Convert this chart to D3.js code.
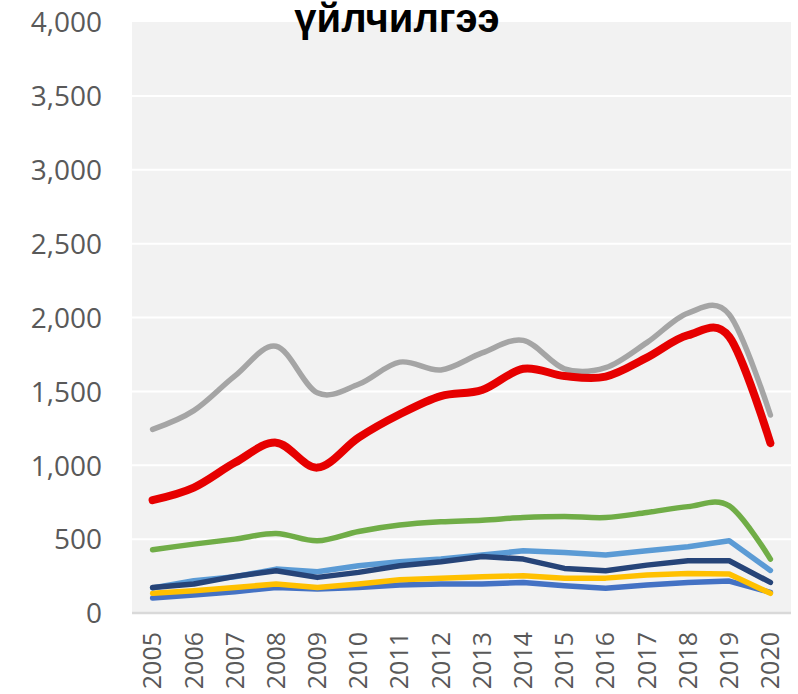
<!DOCTYPE html>
<html>
<head>
<meta charset="utf-8">
<script src="https://cdn.jsdelivr.net/npm/d3@7"></script>
<style>
  body { margin: 0; background: #ffffff; }
  svg { display: block; }
</style>
</head>
<body>
<div id="chart"></div>
<script>
// values
var years = ["2005","2006","2007","2008","2009","2010","2011","2012",
             "2013","2014","2015","2016","2017","2018","2019","2020"];
var yTicks = [0, 500, 1000, 1500, 2000, 2500, 3000, 3500, 4000];

var blueVals      = [101,122,144,173,162,173,189,196,196,207,185,167,189,207,216,140];
var yellowVals    = [133,151,173,196,173,196,225,236,245,252,236,236,257,268,264,133];
var lightBlueVals = [170,218,245,297,279,320,347,365,392,421,410,392,421,448,489,288];
var navyVals      = [173,196,248,286,241,275,320,347,383,365,302,286,324,354,354,207];
var greenVals     = [428,466,500,538,489,552,595,617,628,646,653,646,680,720,725,365];
var grayVals      = [1243,1370,1605,1805,1490,1548,1698,1645,1760,1845,1653,1660,1830,2030,2020,1340];
var redVals       = [764,849,1018,1153,984,1187,1345,1468,1509,1653,1604,1600,1728,1880,1870,1150];

var titleText = "үйлчилгээ";

// drawing order: later ones end up on top
var series = [
  {values: blueVals,      color: "#4472c4", width: 5.5, smooth: false},
  {values: yellowVals,    color: "#ffc000", width: 5.5, smooth: false},
  {values: lightBlueVals, color: "#5b9bd5", width: 5.5, smooth: false},
  {values: navyVals,      color: "#264478", width: 5.5, smooth: false},
  {values: greenVals,     color: "#70ad47", width: 5.5, smooth: true},
  {values: grayVals,      color: "#a5a5a5", width: 5.5, smooth: true},
  {values: redVals,       color: "#e60000", width: 8,   smooth: true}
];

var width = 798,
    height = 694,
    margin = {top: 22, right: 7, bottom: 81, left: 132},
    innerWidth = width - margin.left - margin.right,
    innerHeight = height - margin.top - margin.bottom;

var svg = d3.select("#chart").append("svg")
    .attr("width", width)
    .attr("height", height);

var g = svg.append("g")
    .attr("transform", "translate(" + margin.left + "," + margin.top + ")");

var xScale = d3.scaleBand().domain(years).range([0, innerWidth]);
var yScale = d3.scaleLinear().domain([0, 4000]).range([innerHeight, 0]);

// plot background
g.append("rect")
    .attr("width", innerWidth)
    .attr("height", innerHeight)
    .attr("fill", "#f2f2f2");

// gridlines
g.append("g").selectAll("line")
    .data(yTicks.filter(function(d) { return d > 0 && d < 4000; }))
  .enter().append("line")
    .attr("x1", 0)
    .attr("x2", innerWidth)
    .attr("y1", function(d) { return yScale(d); })
    .attr("y2", function(d) { return yScale(d); })
    .attr("stroke", "#ffffff")
    .attr("stroke-width", 2);

// bottom axis line
g.append("line")
    .attr("x1", 0)
    .attr("x2", innerWidth)
    .attr("y1", innerHeight)
    .attr("y2", innerHeight)
    .attr("stroke", "#d9d9d9")
    .attr("stroke-width", 2.5);

// y axis labels
var yAxis = g.append("g")
    .attr("class", "y axis")
    .call(d3.axisLeft(yScale).tickValues(yTicks).tickFormat(d3.format(",")).tickSize(0).tickPadding(30));
yAxis.select(".domain").remove();
yAxis.selectAll("text")
    .attr("font-family", "'Open Sans', sans-serif")
    .attr("font-size", "28px")
    .attr("fill", "#595959")
    .attr("dy", "0.35em");

// x axis labels, turned upright
var xAxis = g.append("g")
    .attr("class", "x axis")
    .attr("transform", "translate(0," + innerHeight + ")")
    .call(d3.axisBottom(xScale).tickSize(0));
xAxis.select(".domain").remove();
xAxis.selectAll("text")
    .attr("font-family", "'Open Sans', sans-serif")
    .attr("font-size", "25px")
    .attr("fill", "#595959")
    .attr("text-anchor", "end")
    .attr("transform", "rotate(-90)")
    .attr("x", -19)
    .attr("y", 0)
    .attr("dy", "0.35em");

// lines
series.forEach(function(s) {
  var line = d3.line()
      .x(function(d, i) { return xScale(years[i]) + xScale.bandwidth() / 2; })
      .y(function(d) { return yScale(d); })
      .curve(s.smooth ? d3.curveCatmullRom.alpha(0) : d3.curveLinear);

  g.append("path")
      .datum(s.values)
      .attr("d", line)
      .attr("fill", "none")
      .attr("stroke", s.color)
      .attr("stroke-width", s.width)
      .attr("stroke-linecap", "round")
      .attr("stroke-linejoin", "round");
});

// title, sits over the plot area
svg.append("text")
    .attr("x", 397)
    .attr("y", 32)
    .attr("text-anchor", "middle")
    .attr("font-family", "'Liberation Sans', Arial, sans-serif")
    .attr("font-weight", "bold")
    .attr("font-size", "40px")
    .attr("fill", "#000000")
    .text(titleText);
</script>
</body>
</html>
